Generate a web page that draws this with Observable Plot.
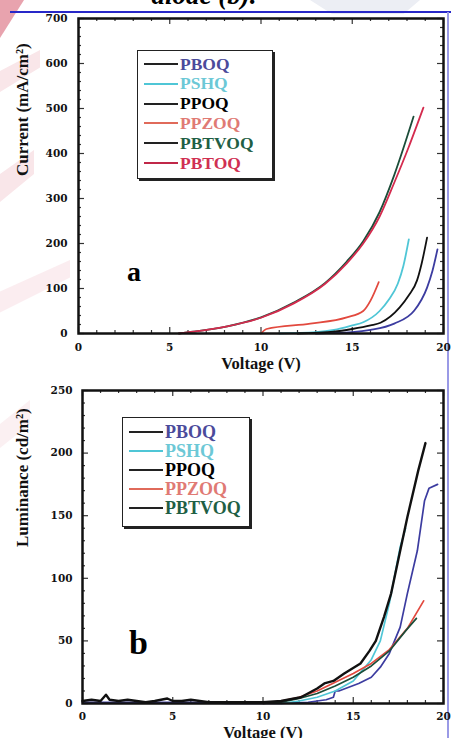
<!DOCTYPE html>
<html><head><meta charset="utf-8">
<script src="https://cdn.jsdelivr.net/npm/d3@7"></script>
<script src="https://cdn.jsdelivr.net/npm/@observablehq/plot@0.6"></script>
<style>
body{margin:0;background:#fff;}
#wrap{position:relative;width:451px;height:738px;overflow:hidden;background:#fff;font-family:"Liberation Serif",serif;}
.abs{position:absolute;}
.wm{position:absolute;background:#f9e6e9;}
.legend{position:absolute;border:1.5px solid #222;box-shadow:2px 2px 0 #222;background:#fff;}
.entry{position:absolute;left:0;height:20px;display:flex;align-items:center;font-weight:bold;font-family:"Liberation Serif",serif;white-space:nowrap;}
.entry .sw{display:inline-block;height:0;border-top:2px solid #222;margin-right:2px;}
.plot{position:absolute;left:0;}
</style></head><body><div id="wrap"></div>
<script>
// ---------- DATA ----------
const seriesNames = ["PBOQ", "PSHQ", "PPOQ", "PPZOQ", "PBTVOQ", "PBTOQ"];
const seriesColors = ["#3c3ca0", "#4fc6d6", "#111111", "#e2493e", "#1b4d39", "#d42b4e"];
const legendTextColors = ["#4b4b9b", "#6cc8d6", "#000000", "#e07a74", "#1f5f45", "#d03052"];

const xTicks = [0, 5, 10, 15, 20];
const yTicksCurrent = [0, 100, 200, 300, 400, 500, 600, 700];
const yTicksLum = [0, 50, 100, 150, 200, 250];

// (a) Current density (mA/cm2) vs voltage (V)
const curPBOQ   = [[13,0],[15,3],[16,8],[17.3,22],[18.4,51],[19.1,102],[19.4,140],[19.67,187]];
const curPSHQ   = [[11,0],[13,3],[14,8],[15,18],[15.6,25],[16.5,50],[17,75],[17.5,111],[17.8,150],[18.1,209]];
const curPPOQ   = [[12,0],[14,4],[15,10],[16,18],[16.55,24],[17.6,58],[18.1,85],[18.55,118],[18.8,155],[19.1,213]];
const curPPZOQ  = [[10,0],[10.3,10],[12.7,22],[14.7,36],[15.6,50],[16,73],[16.45,114]];
const curPBTVOQ = [[5.5,0],[6.3,4],[8.15,16],[10,36],[11.8,69],[13.5,112],[14.7,160],[15.6,205],[16.5,270],[17.3,352],[18.36,482]];
const curPBTOQ  = [[5.5,0],[6.3,4],[8.15,16],[10,35],[11.8,67],[13.5,110],[14.7,156],[15.6,200],[16.5,260],[17.3,335],[18.1,415],[18.9,502]];

// (b) Luminance (cd/m2) vs voltage (V)
const lumPBOQ   = [[0,1],[2,1],[4,1],[6,1],[8,0],[11,0],[12.5,1],[13.5,3],[13.9,5],[14,10],[14.2,10],[15.3,16],[16,21],[16.5,29],[17,40],[17.6,61],[18,88],[18.55,122],[18.95,162],[19.2,172],[19.67,175]];
const lumPSHQ   = [[11,0],[12,2],[13,5],[14,10],[15,18],[16,35],[16.5,50],[17,80],[17.6,125],[17.9,140]];
const lumPPOQ   = [[0,2],[0.5,3],[1,2],[1.3,7],[1.5,3],[2,2],[2.5,3],[3,2],[3.5,1],[4,2],[4.7,4],[5,2],[5.5,2],[6,3],[6.5,2],[7,1],[8,1],[9,1],[10,1],[11,2],[12.1,5],[13,12],[13.4,16],[13.9,18],[14.5,24],[15.4,32],[15.9,42],[16.25,50],[16.7,69],[17.1,88],[17.6,122],[18,149],[18.6,186],[19,208]];
const lumPPZOQ  = [[10,0],[11,2],[12,5],[13,10],[14,17],[15,24],[16,32],[17,43],[18,60],[18.9,82]];
const lumPBTVOQ = [[10,0],[11,1],[12,4],[13,8],[14,14],[15,21],[16,30],[17,42],[17.9,58],[18.5,68]];

const currentSeries = {PBOQ: curPBOQ, PSHQ: curPSHQ, PPOQ: curPPOQ, PPZOQ: curPPZOQ, PBTVOQ: curPBTVOQ, PBTOQ: curPBTOQ};
const lumSeries = {PBOQ: lumPBOQ, PSHQ: lumPSHQ, PPOQ: lumPPOQ, PPZOQ: lumPPZOQ, PBTVOQ: lumPBTVOQ};

// ---------- HELPERS ----------
const wrap = document.getElementById("wrap");
function table(obj) {
  return Object.entries(obj).flatMap(([s, pts]) => pts.map(([v, y]) => ({series: s, v, y})));
}
function range(a, b, step) { const r = []; for (let t = a; t <= b + 1e-9; t += step) r.push(+t.toFixed(6)); return r; }

function frameTicks(xDom, yDom, fw, fh, xMajStep, xMinStep, yMajStep, yMinStep) {
  const ux = (xDom[1] - xDom[0]) / fw, uy = (yDom[1] - yDom[0]) / fh;
  const xMaj = range(xDom[0], xDom[1], xMajStep), yMaj = range(yDom[0], yDom[1], yMajStep);
  const xMin = range(xDom[0], xDom[1], xMinStep).filter(t => !xMaj.some(m => Math.abs(m - t) < 1e-6));
  const yMin = range(yDom[0], yDom[1], yMinStep).filter(t => !yMaj.some(m => Math.abs(m - t) < 1e-6));
  const st = {stroke: "#333", strokeWidth: 1.2};
  const marks = [];
  for (const [ticks, L] of [[xMaj, 6], [xMin, 3]]) {
    marks.push(Plot.ruleX(ticks, {x: d => d, y1: yDom[0], y2: yDom[0] + L * uy, ...st}));
    marks.push(Plot.ruleX(ticks, {x: d => d, y1: yDom[1], y2: yDom[1] - L * uy, ...st}));
  }
  for (const [ticks, L] of [[yMaj, 6], [yMin, 3]]) {
    marks.push(Plot.ruleY(ticks, {y: d => d, x1: xDom[0], x2: xDom[0] + L * ux, ...st}));
    marks.push(Plot.ruleY(ticks, {y: d => d, x1: xDom[1], x2: xDom[1] - L * ux, ...st}));
  }
  return marks;
}

function addDiv(cls, css, html) {
  const d = document.createElement("div");
  d.className = cls; d.style.cssText = css; if (html != null) d.innerHTML = html;
  wrap.appendChild(d); return d;
}

// ---------- WATERMARK / PAGE DECOR ----------
addDiv("wm", "left:0;top:0;width:24px;height:38px;background:#e8a3ae;clip-path:polygon(0 0,100% 0,0 100%);");
addDiv("wm", "left:0;top:50px;width:40px;height:70px;clip-path:polygon(0 30%,100% 0,100% 25%,0 60%);");
addDiv("wm", "left:0;top:150px;width:34px;height:80px;clip-path:polygon(0 30%,100% 0,100% 30%,0 65%);");
addDiv("wm", "left:0;top:260px;width:70px;height:70px;clip-path:polygon(0 45%,100% 0,100% 25%,0 75%);opacity:.7");
addDiv("wm", "left:0;top:400px;width:30px;height:80px;clip-path:polygon(0 30%,100% 0,100% 30%,0 60%);opacity:.6");
addDiv("wm", "left:310px;top:0;width:110px;height:14px;background:#eceef4;clip-path:polygon(0 0,100% 0,85% 100%,20% 100%);");
// title fragment cut at top
addDiv("abs", "left:0;width:408px;text-align:center;top:-18px;font:italic bold 27px 'Liberation Serif',serif;line-height:1;", "diode (b).");
addDiv("abs", "left:10px;top:11px;width:441px;height:2px;background:#2828c8;");
addDiv("abs", "left:447px;top:12px;width:2px;height:726px;background:#9a9ae6;");

// ---------- PANEL (a) ----------
const A = {left: 78, right: 8, top: 18, bottom: 47, width: 451, height: 380};
const xDom = [0, 20], yDomA = [0, 700];
const plotA = Plot.plot({
  width: A.width, height: A.height,
  marginLeft: A.left, marginRight: A.right, marginTop: A.top, marginBottom: A.bottom,
  x: {domain: xDom}, y: {domain: yDomA},
  color: {domain: seriesNames, range: seriesColors},
  style: {background: "transparent", fontFamily: "'DejaVu Serif', serif", fontWeight: "bold", color: "#111"},
  marks: [
    ...frameTicks(xDom, yDomA, A.width - A.left - A.right, A.height - A.top - A.bottom, 5, 1, 100, 20),
    ...seriesNames.map(s => Plot.line(table({[s]: currentSeries[s]}), {x: "v", y: "y", stroke: "series", strokeWidth: 1.8, curve: "monotone-x"})),
    Plot.frame({stroke: "#111", strokeWidth: 2.5}),
    Plot.axisX({ticks: xTicks, tickSize: 0, tickPadding: 10, fontSize: 10.5, label: null, fontFamily: "'DejaVu Serif', serif", fontWeight: "bold"}),
    Plot.axisY({ticks: yTicksCurrent, tickSize: 0, tickPadding: 11, fontSize: 10.5, label: null, fontFamily: "'DejaVu Serif', serif", fontWeight: "bold"}),
    Plot.text(["Current (mA/cm²)"], {text: d => d, frameAnchor: "left", rotate: -90, dx: -56, fontSize: 17, fontFamily: "'Liberation Serif', serif", fontWeight: "bold"}),
    Plot.text(["Voltage (V)"], {text: d => d, frameAnchor: "bottom", dy: 35, fontSize: 16.5, fontFamily: "'Liberation Serif', serif", fontWeight: "bold"})
  ]
});
plotA.classList.add("plot"); plotA.style.top = "0px";
wrap.appendChild(plotA);

// ---------- PANEL (b) ----------
const B = {left: 82, right: 8, top: 15, bottom: 35, width: 451, height: 363, offset: 375};
const yDomB = [0, 250];
const plotB = Plot.plot({
  width: B.width, height: B.height,
  marginLeft: B.left, marginRight: B.right, marginTop: B.top, marginBottom: B.bottom,
  x: {domain: xDom}, y: {domain: yDomB},
  color: {domain: seriesNames, range: seriesColors},
  style: {background: "transparent", fontFamily: "'DejaVu Serif', serif", fontWeight: "bold", color: "#111"},
  marks: [
    ...frameTicks(xDom, yDomB, B.width - B.left - B.right, B.height - B.top - B.bottom, 5, 1, 50, 10),
    ...["PBOQ", "PSHQ", "PPZOQ", "PBTVOQ", "PPOQ"].map(s => Plot.line(table({[s]: lumSeries[s]}), {x: "v", y: "y", stroke: "series", strokeWidth: s === "PPOQ" ? 2.4 : 1.7, curve: "linear"})),
    Plot.frame({stroke: "#111", strokeWidth: 2.5}),
    Plot.axisX({ticks: xTicks, tickSize: 0, tickPadding: 9, fontSize: 10.5, label: null, fontFamily: "'DejaVu Serif', serif", fontWeight: "bold"}),
    Plot.axisY({ticks: yTicksLum, tickSize: 0, tickPadding: 10, fontSize: 10.5, label: null, fontFamily: "'DejaVu Serif', serif", fontWeight: "bold"}),
    Plot.text(["Luminance (cd/m²)"], {text: d => d, frameAnchor: "left", rotate: -90, dx: -60, fontSize: 17, fontFamily: "'Liberation Serif', serif", fontWeight: "bold"}),
    Plot.text(["Voltage (V)"], {text: d => d, frameAnchor: "bottom", dy: 34, fontSize: 16.5, fontFamily: "'Liberation Serif', serif", fontWeight: "bold"})
  ]
});
plotB.classList.add("plot"); plotB.style.top = B.offset + "px";
wrap.appendChild(plotB);

// ---------- LEGENDS & PANEL LETTERS ----------
function legend(names, box, rowTop, rowStep, lineLen, fontSize) {
  const lg = addDiv("legend", `left:${box.left}px;top:${box.top}px;width:${box.w}px;height:${box.h}px;`);
  names.forEach((s, k) => {
    const i = seriesNames.indexOf(s);
    const e = document.createElement("div");
    e.className = "entry";
    e.style.cssText = `top:${rowTop + k * rowStep - 10}px;left:6px;font-size:${fontSize}px;color:${legendTextColors[i]};`;
    e.innerHTML = `<span class="sw" style="width:${lineLen}px;border-top-color:${s === "PSHQ" ? seriesColors[i] : (s === "PPZOQ" ? "#e06a5a" : (s === "PBTOQ" ? "#c02848" : "#222"))}"></span>${s}`;
    lg.appendChild(e);
  });
}
legend(seriesNames, {left: 137, top: 50, w: 134, h: 127}, 13, 19.8, 34, 17.5);
legend(["PBOQ", "PSHQ", "PPOQ", "PPZOQ", "PBTVOQ"], {left: 122, top: 417, w: 126, h: 108}, 14, 19, 34, 18);

addDiv("abs", "left:127px;top:258px;font:bold 28px 'Liberation Serif',serif;line-height:1;", "a");
addDiv("abs", "left:129px;top:626px;font:bold 34px 'Liberation Serif',serif;line-height:1;", "b");
</script></body></html>
